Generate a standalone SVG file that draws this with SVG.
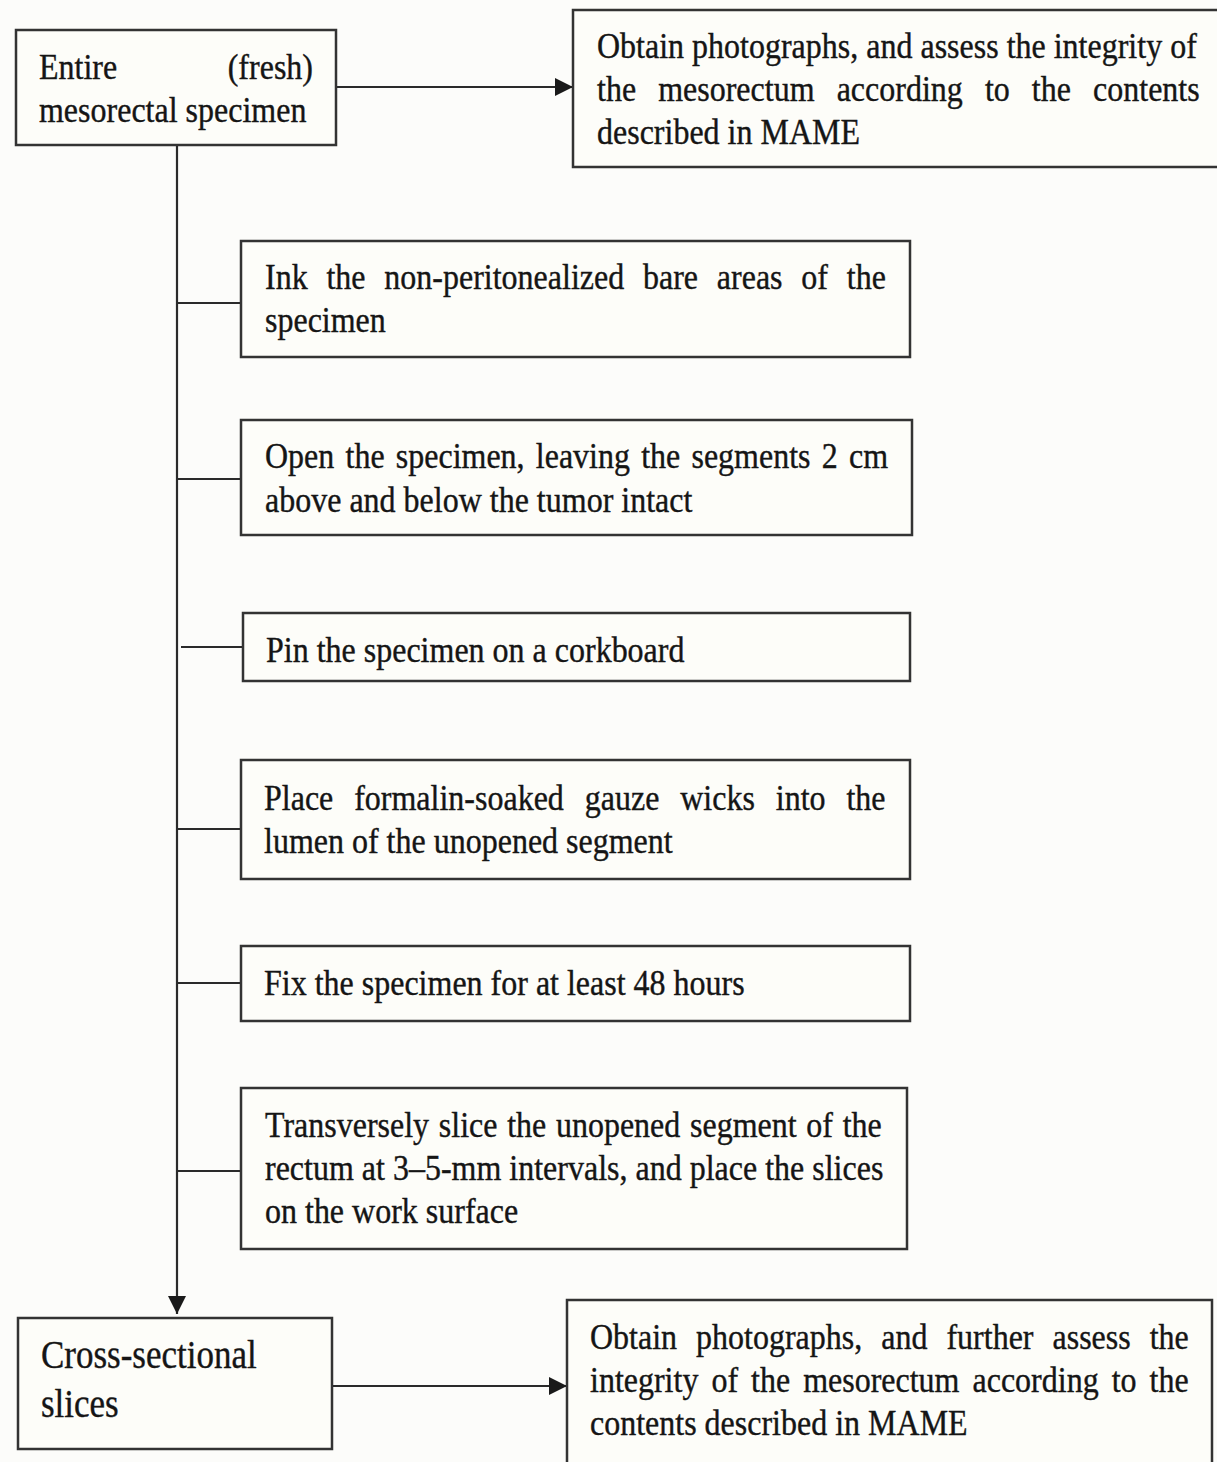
<svg xmlns="http://www.w3.org/2000/svg" width="1217" height="1462" viewBox="0 0 1217 1462">
<defs>
<style>
.box{fill:#fdfdf9;stroke:#333;stroke-width:2.5}
.t{font-family:"Liberation Serif","Times New Roman",serif;font-size:32px;fill:#151515;stroke:#151515;stroke-width:0.35}
.tl{font-family:"Liberation Serif","Times New Roman",serif;font-size:35px;fill:#151515;stroke:#151515;stroke-width:0.35}
.c{stroke:#2a2a2a;stroke-width:2.2;fill:none}
</style>
<marker id="ah" markerUnits="userSpaceOnUse" markerWidth="20" markerHeight="18" refX="18" refY="9" orient="auto">
<path d="M0,0 L18,9 L0,18 Z" fill="#1a1a1a"/>
</marker>
</defs>
<rect width="1217" height="1462" fill="#fcfcfa"/>
<g id="connectors">
<line class="c" x1="336" y1="87" x2="573" y2="87" marker-end="url(#ah)"/>
<line class="c" x1="177" y1="145" x2="177" y2="1314" marker-end="url(#ah)"/>
<line class="c" x1="177" y1="303" x2="241" y2="303"/>
<line class="c" x1="177" y1="479" x2="241" y2="479"/>
<line class="c" x1="181" y1="647" x2="243" y2="647"/>
<line class="c" x1="177" y1="829" x2="241" y2="829"/>
<line class="c" x1="177" y1="983" x2="241" y2="983"/>
<line class="c" x1="177" y1="1171" x2="241" y2="1171"/>
<line class="c" x1="332" y1="1386" x2="567" y2="1386" marker-end="url(#ah)"/>
</g>
<g id="n-entire">
<rect class="box" x="16" y="30" width="320" height="115"/>
<text class="t" x="39" transform="translate(0,79) scale(1,1.12)">Entire</text>
<text class="t" x="313" text-anchor="end" transform="translate(0,79) scale(1,1.12)">(fresh)</text>
<text class="t" x="39" transform="translate(0,122) scale(1,1.12)">mesorectal specimen</text>
</g>
<g id="n-photo1">
<rect class="box" x="573" y="10" width="660" height="157"/>
<text class="t" x="597" transform="translate(0,58) scale(1,1.12)">Obtain photographs, and assess the integrity of</text>
<text class="t" x="597" word-spacing="14.1" transform="translate(0,101) scale(1,1.12)">the mesorectum according to the contents</text>
<text class="t" x="597" transform="translate(0,144) scale(1,1.12)">described in MAME</text>
</g>
<g id="n-ink">
<rect class="box" x="241" y="241" width="669" height="116"/>
<text class="t" x="265" word-spacing="10.8" transform="translate(0,289) scale(1,1.12)">Ink the non-peritonealized bare areas of the</text>
<text class="t" x="265" transform="translate(0,332) scale(1,1.12)">specimen</text>
</g>
<g id="n-open">
<rect class="box" x="241" y="420" width="671" height="115"/>
<text class="t" x="265" word-spacing="3.2" transform="translate(0,468) scale(1,1.12)">Open the specimen, leaving the segments 2 cm</text>
<text class="t" x="265" transform="translate(0,512) scale(1,1.12)">above and below the tumor intact</text>
</g>
<g id="n-pin">
<rect class="box" x="243" y="613" width="667" height="68"/>
<text class="t" x="266" transform="translate(0,662) scale(1,1.12)">Pin the specimen on a corkboard</text>
</g>
<g id="n-place">
<rect class="box" x="241" y="760" width="669" height="119"/>
<text class="t" x="264" word-spacing="12.9" transform="translate(0,810) scale(1,1.12)">Place formalin-soaked gauze wicks into the</text>
<text class="t" x="264" transform="translate(0,853) scale(1,1.12)">lumen of the unopened segment</text>
</g>
<g id="n-fix">
<rect class="box" x="241" y="946" width="669" height="75"/>
<text class="t" x="264" transform="translate(0,995) scale(1,1.12)">Fix the specimen for at least 48 hours</text>
</g>
<g id="n-slice">
<rect class="box" x="241" y="1088" width="666" height="161"/>
<text class="t" x="265" word-spacing="1.7" transform="translate(0,1137) scale(1,1.12)">Transversely slice the unopened segment of the</text>
<text class="t" x="265" transform="translate(0,1180) scale(1,1.12)">rectum at 3–5-mm intervals, and place the slices</text>
<text class="t" x="265" transform="translate(0,1223) scale(1,1.12)">on the work surface</text>
</g>
<g id="n-cross">
<rect class="box" x="18" y="1318" width="314" height="131"/>
<text class="tl" x="41" transform="translate(0,1368) scale(1,1.12)">Cross-sectional</text>
<text class="tl" x="41" transform="translate(0,1417) scale(1,1.12)">slices</text>
</g>
<g id="n-photo2">
<rect class="box" x="567" y="1300" width="645" height="180"/>
<text class="t" x="590" word-spacing="11" transform="translate(0,1349) scale(1,1.12)">Obtain photographs, and further assess the</text>
<text class="t" x="590" word-spacing="5" transform="translate(0,1392) scale(1,1.12)">integrity of the mesorectum according to the</text>
<text class="t" x="590" transform="translate(0,1435) scale(1,1.12)">contents described in MAME</text>
</g>
</svg>
